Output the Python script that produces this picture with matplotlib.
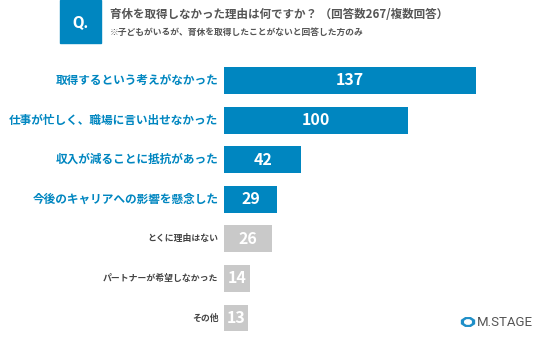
import matplotlib
matplotlib.use('Agg')
import matplotlib.pyplot as plt
from matplotlib.patches import Rectangle, RegularPolygon

plt.rcParams['font.family'] = ['Noto Sans CJK JP', 'DejaVu Sans']

reasons = ['取得するという考えがなかった', '仕事が忙しく、職場に言い出せなかった',
           '収入が減ることに抵抗があった', '今後のキャリアへの影響を懸念した',
           'とくに理由はない', 'パートナーが希望しなかった', 'その他']
counts = [137, 100, 42, 29, 26, 14, 13]
highlight = [True, True, True, True, False, False, False]

blue = '#0086c0'
gray = '#c9c9c9'

W, H = 536, 353
fig = plt.figure(figsize=(W / 100, H / 100), dpi=100)

# header box
fig.patches.append(Rectangle((60 / W, 1 - 43 / H), 41 / W, 43 / H,
                             transform=fig.transFigure, color=blue, zorder=0))
fig.text(80.5 / W, 1 - 23 / H, 'Q.', color='white', fontsize=12, fontweight='bold',
         ha='center', va='center', family='Roboto')
fig.text(110 / W, 1 - 14 / H, '育休を取得しなかった理由は何ですか？ （回答数267/複数回答）',
         color='#555555', fontsize=8.3, fontweight='bold', ha='left', va='center')
fig.text(110 / W, 1 - 32 / H, '※子どもがいるが、育休を取得したことがないと回答した方のみ',
         color='#555555', fontsize=6.3, fontweight='bold', ha='left', va='center')

ax = fig.add_axes([224 / W, 1 - 337.8 / H, (W - 224) / W, 277.1 / H])
ypos = list(range(len(reasons)))
colors = [blue if h else gray for h in highlight]
bars = ax.barh(ypos, counts, height=0.68, color=colors)
ax.set_xlim(0, (W - 224) / 1.84)
ax.set_ylim(len(reasons) - 0.5, -0.5)
ax.axis('off')

for b, c in zip(bars, counts):
    ax.text(b.get_width() / 2, b.get_y() + b.get_height() / 2, str(c),
            color='white', fontsize=11.5, fontweight='bold', ha='center', va='center')

for y, r, h in zip(ypos, reasons, highlight):
    ax.text(-3, y, r, ha='right', va='center', fontweight='bold',
            color=blue if h else '#444444', fontsize=8.4 if h else 6.4)

# logo
fig.patches.append(RegularPolygon((468 / W, 1 - 322 / H), numVertices=8, radius=7 / W,
                                  orientation=0.39, transform=fig.transFigure,
                                  color='#1f8fc8'))
fig.patches.append(RegularPolygon((468 / W, 1 - 322 / H), numVertices=8, radius=3.5 / W,
                                  orientation=0.39, transform=fig.transFigure,
                                  color='white'))
fig.text(477 / W, 1 - 322 / H, 'M.STAGE', color='#555555', fontsize=9.5,
         ha='left', va='center', family='Roboto')

fig.savefig('out.png', dpi=100)
